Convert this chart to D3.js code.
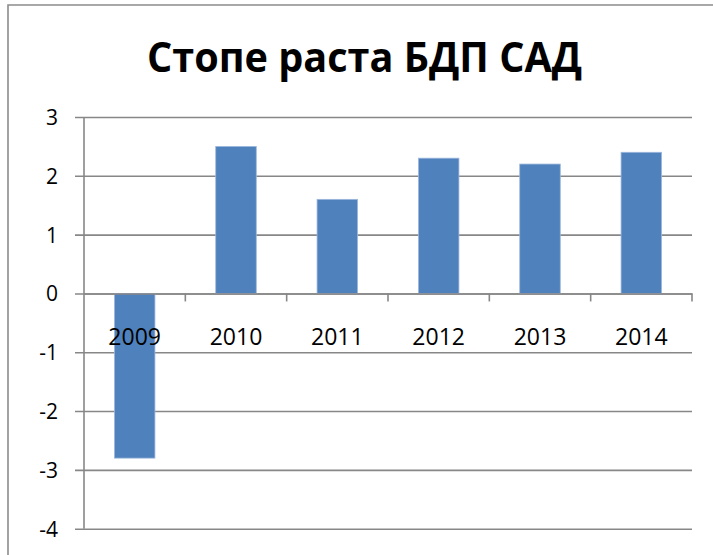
<!DOCTYPE html>
<html>
<head>
<meta charset="utf-8">
<script src="https://cdn.jsdelivr.net/npm/d3@7"></script>
<style>
  html, body { margin: 0; padding: 0; background: #fff; }
  svg { display: block; }
</style>
</head>
<body>
<svg id="chart" width="713" height="555"></svg>
<script>
const title = "Стопе раста БДП САД";
const categories = ["2009", "2010", "2011", "2012", "2013", "2014"];
const values = [-2.8, 2.5, 1.6, 2.3, 2.2, 2.4];
const yTicks = [-4, -3, -2, -1, 0, 1, 2, 3];

const svg = d3.select("#chart");
const font = "'Open Sans', 'Liberation Sans', sans-serif";
const gridColor = "#878787";

// outer chart border (partly cropped)
svg.append("path")
  .attr("d", "M8,560 L8,5 L720,5")
  .attr("fill", "none").attr("stroke", "#8c8c8c").attr("stroke-width", 1.6);

// title
svg.append("text")
  .attr("x", 147).attr("y", 72)
  .attr("font-family", font).attr("font-weight", "bold")
  .attr("font-size", 40.5)
  .attr("textLength", 435).attr("lengthAdjust", "spacingAndGlyphs")
  .attr("fill", "#000")
  .text(title);

const left = 84, right = 692;
const y = d3.scaleLinear().domain([-4, 3]).range([528.7, 117]);
const x = d3.scaleBand().domain(categories).range([left, right]).padding(0);

// gridlines + y ticks
const yAxis = d3.axisLeft(y).tickValues(yTicks)
  .tickSize(-(right - left)).tickSizeOuter(0).tickPadding(0).tickFormat("");
const gy = svg.append("g").attr("transform", `translate(${left},0)`).call(yAxis);
gy.select(".domain").remove();
gy.selectAll(".tick line")
  .attr("x1", -9)
  .attr("stroke", gridColor).attr("stroke-width", 1.6);

// y tick labels
svg.append("g").selectAll("text").data(yTicks).join("text")
  .attr("x", 58).attr("y", d => y(d) + 8)
  .attr("text-anchor", "end")
  .attr("font-family", font).attr("font-size", 21)
  .attr("fill", "#000")
  .text(d => d);

// y axis line
svg.append("line")
  .attr("x1", left).attr("x2", left)
  .attr("y1", y(3)).attr("y2", y(-4))
  .attr("stroke", gridColor).attr("stroke-width", 1.6);

// bars
const barW = x.bandwidth() * 0.4;
svg.append("g").selectAll("rect").data(values).join("rect")
  .attr("x", (d, i) => x(categories[i]) + (x.bandwidth() - barW) / 2)
  .attr("width", barW)
  .attr("y", d => Math.min(y(d), y(0)))
  .attr("height", d => Math.abs(y(d) - y(0)))
  .attr("fill", "#4f81bd")
  .attr("stroke", "#9db8dc").attr("stroke-width", 0.8);

// x axis at zero
const xAxis = d3.axisBottom(x).tickSize(0).tickFormat("");
const gx = svg.append("g").attr("transform", `translate(0,${y(0)})`).call(xAxis);
gx.selectAll(".tick").remove();
gx.select(".domain").attr("stroke", gridColor).attr("stroke-width", 1.6);

// category boundary tick marks
const bounds = categories.map(c => x(c) + x.bandwidth()).slice();
svg.append("g").selectAll("line").data(bounds).join("line")
  .attr("x1", d => d).attr("x2", d => d)
  .attr("y1", y(0)).attr("y2", y(0) + 8)
  .attr("stroke", gridColor).attr("stroke-width", 1.6);

// category labels
svg.append("g").selectAll("text").data(categories).join("text")
  .attr("x", d => x(d) + x.bandwidth() / 2)
  .attr("y", 344.5)
  .attr("text-anchor", "middle")
  .attr("font-family", font).attr("font-size", 23)
  .attr("fill", "#000")
  .text(d => d);
</script>
</body>
</html>
